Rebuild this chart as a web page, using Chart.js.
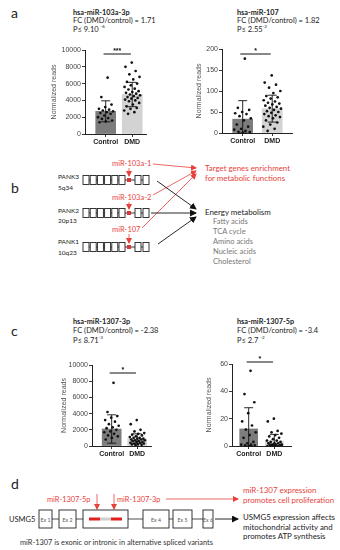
<!DOCTYPE html>
<html>
<head>
<meta charset="utf-8">
<script src="https://cdn.jsdelivr.net/npm/chart.js@4"></script>
<style>
  body { margin: 0; background: #fff; }
  #fig { position: relative; width: 340px; height: 550px; overflow: hidden; }
  #fig svg, #fig canvas { position: absolute; }
  svg text { font-family: Lato, "Open Sans", sans-serif; }
</style>
</head>
<body>
<div id="fig">
<svg width="340" height="550" style="left:0;top:0">
  <defs>
    <marker id="ar" markerWidth="6" markerHeight="6" refX="5" refY="3" orient="auto" markerUnits="userSpaceOnUse">
      <path d="M0,0 L6,3 L0,6 z" fill="#e8413c"/>
    </marker>
    <marker id="ak" markerWidth="7" markerHeight="7" refX="6" refY="3.5" orient="auto" markerUnits="userSpaceOnUse">
      <path d="M0,0 L7,3.5 L0,7 z" fill="#111"/>
    </marker>
  </defs>

  <!-- panel letters -->
  <g font-size="14" fill="#222" dominant-baseline="central">
    <text x="11" y="12">a</text>
    <text x="11" y="187">b</text>
    <text x="11" y="330">c</text>
    <text x="11" y="483">d</text>
  </g>

  <!-- chart titles -->
  <g font-size="7.5" fill="#222" dominant-baseline="central">
    <text x="73" y="12" font-size="7.3" font-weight="bold">hsa-miR-103a-3p</text>
    <text x="73" y="20.5">FC (DMD/control) = 1.71</text>
    <text x="73" y="29">P≤ 9.10 <tspan font-size="4.6" dy="-3">-6</tspan></text>
    <text x="237" y="12" font-size="7.3" font-weight="bold">hsa-miR-107</text>
    <text x="237" y="20.5">FC (DMD/control) = 1.82</text>
    <text x="237" y="29">P≤ 2.55<tspan font-size="4.6" dy="-3">-2</tspan></text>
    <text x="73" y="321" font-size="7.3" font-weight="bold">hsa-miR-1307-3p</text>
    <text x="73" y="330.5">FC (DMD/control) = -2.38</text>
    <text x="73" y="340">P≤ 8.71<tspan font-size="4.6" dy="-3">-3</tspan></text>
    <text x="237" y="321" font-size="7.3" font-weight="bold">hsa-miR-1307-5p</text>
    <text x="237" y="330.5">FC (DMD/control) = -3.4</text>
    <text x="237" y="340">P≤ 2.7 <tspan font-size="4.6" dy="-3">-2</tspan></text>
  </g>

  <!-- panel b -->
  <g id="genes" stroke="#222" stroke-width="0.9" fill="none"></g>
  <g font-size="6.5" fill="#222" dominant-baseline="central">
    <text x="58" y="176">PANK3</text><text x="58" y="187">5q34</text>
    <text x="58" y="210">PANK2</text><text x="58" y="220">20p13</text>
    <text x="58" y="241">PANK1</text><text x="58" y="252">10q23</text>
  </g>
  <g font-size="7.5" fill="#e8413c" dominant-baseline="central">
    <text x="112" y="163">miR-103a-1</text>
    <text x="112" y="197">miR-103a-2</text>
    <text x="112" y="229">miR-107</text>
  </g>
  <g font-size="7.9" fill="#e8413c" dominant-baseline="central">
    <text x="205" y="168">Target genes enrichment</text>
    <text x="205" y="178">for metabolic functions</text>
  </g>
  <g stroke="#e8413c" stroke-width="0.8" marker-end="url(#ar)">
    <line x1="129" y1="168" x2="129" y2="176"/>
    <line x1="129" y1="202" x2="129" y2="209"/>
    <line x1="129" y1="234" x2="129" y2="243"/>
    <line x1="153" y1="164" x2="196" y2="168"/>
    <line x1="153" y1="195" x2="196" y2="171"/>
    <line x1="142" y1="228" x2="196" y2="174"/>
  </g>
  <g stroke="#111" stroke-width="0.9" marker-end="url(#ak)">
    <line x1="157" y1="181" x2="196" y2="209"/>
    <line x1="151" y1="213" x2="196" y2="213"/>
    <line x1="158" y1="244" x2="196" y2="217"/>
  </g>
  <text x="205" y="212" font-size="7.9" fill="#222" dominant-baseline="central">Energy metabolism</text>
  <g font-size="7.5" fill="#777" dominant-baseline="central">
    <text x="213" y="221.5">Fatty acids</text>
    <text x="213" y="231.5">TCA cycle</text>
    <text x="213" y="241.5">Amino acids</text>
    <text x="213" y="251.5">Nucleic acids</text>
    <text x="213" y="261.5">Cholesterol</text>
  </g>

  <!-- panel d -->
  <g font-size="7.4" fill="#e8413c" dominant-baseline="central">
    <text x="47" y="499">miR-1307-5p</text>
    <text x="117" y="499">miR-1307-3p</text>
  </g>
  <g font-size="7.9" fill="#e8413c" dominant-baseline="central">
    <text x="243" y="490">miR-1307 expression</text>
    <text x="243" y="499.5">promotes cell proliferation</text>
  </g>
  <g stroke="#e8413c" stroke-width="0.8" marker-end="url(#ar)">
    <line x1="97" y1="494" x2="97" y2="509"/>
    <line x1="114" y1="494" x2="114" y2="509"/>
    <line x1="166" y1="499" x2="238" y2="499"/>
  </g>
  <line x1="52" y1="519" x2="203" y2="519" stroke="#222" stroke-width="0.8"/>
  <g stroke="#222" stroke-width="0.9" fill="#fff">
    <rect x="39" y="510" width="13" height="18"/>
    <rect x="59" y="510" width="17" height="18"/>
    <rect x="83" y="510" width="45" height="18"/>
    <rect x="143" y="510" width="26" height="18"/>
    <rect x="173" y="510" width="19" height="18"/>
    <rect x="203" y="510" width="10" height="18"/>
  </g>
  <rect x="89" y="517.5" width="11" height="3" fill="#e02020"/>
  <rect x="100" y="517.5" width="11" height="3" fill="#cfcfcf"/>
  <rect x="111" y="517.5" width="11" height="3" fill="#e02020"/>
  <g font-size="5.2" fill="#555" dominant-baseline="central" text-anchor="middle">
    <text x="45.5" y="520">Ex 1</text>
    <text x="67.5" y="520">Ex 2</text>
    <text x="156" y="520">Ex 4</text>
    <text x="182.5" y="520">Ex 5</text>
    <text x="208" y="520">Ex 6</text>
  </g>
  <line x1="215" y1="519" x2="238" y2="519" stroke="#111" stroke-width="0.9" marker-end="url(#ak)"/>
  <text x="9" y="519" font-size="7.5" fill="#222" dominant-baseline="central">USMG5</text>
  <g font-size="7.9" fill="#222" dominant-baseline="central">
    <text x="243" y="517">USMG5 expression affects</text>
    <text x="243" y="526.5">mitochondrial activity and</text>
    <text x="243" y="536">promotes ATP synthesis</text>
  </g>
  <text x="20" y="542" font-size="7.4" fill="#333" dominant-baseline="central">miR-1307 is exonic or intronic in alternative spliced variants</text>
</svg>

<canvas id="a1" width="100" height="106" style="left:50px;top:42px"></canvas>
<canvas id="a2" width="101" height="106" style="left:195px;top:41px"></canvas>
<canvas id="c1" width="95" height="103" style="left:60px;top:357px"></canvas>
<canvas id="c2" width="90" height="104" style="left:205px;top:356px"></canvas>
</div>

<script>
const groups = ["Control", "DMD"];

// hsa-miR-103a-3p
const mir103Mean = [2700, 4700];
const mir103Sd = [1250, 1450];
const mir103Control = [6700, 4400, 3500, 3200, 3000, 2900, 2800, 2700, 2600, 2500, 2400, 2200, 2000, 1900, 1800, 1600, 1500, 1400];
const mir103Dmd = [8500, 8000, 7500, 7100, 6800, 6500, 6200, 6000, 5800, 5600, 5400, 5300, 5100, 5000, 4900, 4800, 4700, 4600, 4500, 4400, 4300, 4200, 4100, 4000, 3900, 3700, 3500, 3300, 3100, 3000, 2800, 2600, 2400];

// hsa-miR-107
const mir107Mean = [33, 58];
const mir107Sd = [44, 32];
const mir107Control = [177, 60, 55, 50, 47, 45, 40, 35, 30, 20, 15, 10, 8, 5, 3, 2, 1];
const mir107Dmd = [137, 120, 115, 108, 100, 95, 88, 85, 82, 78, 75, 72, 70, 68, 65, 62, 60, 58, 55, 52, 50, 48, 45, 42, 40, 38, 35, 30, 25, 20, 15, 10, 5];

// hsa-miR-1307-3p
const mir1307_3Mean = [2100, 900];
const mir1307_3Sd = [1750, 600];
const mir1307_3Control = [7800, 4200, 3700, 3500, 3200, 3000, 2700, 2500, 2300, 2200, 2000, 1800, 1700, 1500, 1300, 1200, 1000, 800];
const mir1307_3Dmd = [3200, 2700, 2000, 1800, 1600, 1500, 1400, 1300, 1200, 1100, 1000, 1000, 900, 900, 800, 800, 700, 700, 600, 600, 500, 500, 400, 400, 300, 300, 200, 200, 150, 100];

// hsa-miR-1307-5p
const mir1307_5Mean = [12.5, 3.5];
const mir1307_5Sd = [15.5, 5];
const mir1307_5Control = [55, 38, 32, 24, 18, 15, 12, 10, 8, 6, 3, 2, 1, 1, 0.5, 0.5, 0];
const mir1307_5Dmd = [20, 18, 11, 10, 9, 8, 7, 6, 5, 4, 4, 3, 3, 2, 2, 2, 1, 1, 1, 1, 0.5, 0.5, 0, 0, 0.3, 0.8];

// gene structure rows for panel b (drawn in svg)
(function drawGenes() {
  const g = document.getElementById("genes");
  const ns = "http://www.w3.org/2000/svg";
  [180, 213, 247].forEach(y => {
    const ln = document.createElementNS(ns, "line");
    ln.setAttribute("x1", 83); ln.setAttribute("x2", 149);
    ln.setAttribute("y1", y); ln.setAttribute("y2", y);
    g.appendChild(ln);
    const xs = [83, 90.2, 97.4, 104.6, 111.8, 119, 135, 143];
    xs.forEach(x => {
      const r = document.createElementNS(ns, "rect");
      r.setAttribute("x", x); r.setAttribute("y", y - 4.5);
      r.setAttribute("width", 6); r.setAttribute("height", 9);
      r.setAttribute("fill", "#fff");
      g.appendChild(r);
    });
    const sq = document.createElementNS(ns, "rect");
    sq.setAttribute("x", 127); sq.setAttribute("y", y - 2);
    sq.setAttribute("width", 4); sq.setAttribute("height", 4);
    sq.setAttribute("fill", "#d9383a"); sq.setAttribute("stroke", "none");
    g.appendChild(sq);
  });
})();

// spread dots across the bar (deterministic)
const spread = i => ((((i + 1) * 0.6180339) % 1) - 0.5) * 0.62;

const errorBars = {
  id: "errorBars",
  afterDatasetsDraw(chart, args, opts) {
    const { ctx, scales: { x, y } } = chart;
    ctx.save();
    ctx.strokeStyle = "#111";
    ctx.lineWidth = 0.9;
    opts.mean.forEach((m, i) => {
      const cx = x.getPixelForValue(i);
      const top = y.getPixelForValue(m + opts.sd[i]);
      const bot = y.getPixelForValue(Math.max(0, m - opts.sd[i]));
      ctx.beginPath();
      ctx.moveTo(cx, top); ctx.lineTo(cx, bot);
      ctx.moveTo(cx - 4.5, top); ctx.lineTo(cx + 4.5, top);
      ctx.moveTo(cx - 4.5, bot); ctx.lineTo(cx + 4.5, bot);
      ctx.stroke();
    });
    // significance bar
    const sy = chart.chartArea.top + opts.sigY;
    const x1 = x.getPixelForValue(-0.08), x2 = x.getPixelForValue(0.95);
    ctx.beginPath();
    ctx.moveTo(x1, sy); ctx.lineTo(x2, sy);
    ctx.lineWidth = 1;
    ctx.stroke();
    ctx.fillStyle = "#111";
    ctx.font = "bold 7px 'Liberation Sans'";
    ctx.textAlign = "center";
    ctx.textBaseline = "bottom";
    ctx.fillText(opts.sigText, (x1 + x2) / 2, sy + 0.5);
    ctx.restore();
  },
};

function makeChart(id, cfg) {
  const dots = [];
  cfg.control.forEach((v, i) => dots.push({ x: spread(i), y: v }));
  cfg.dmd.forEach((v, i) => dots.push({ x: 1 + spread(i + 3), y: v }));
  new Chart(document.getElementById(id), {
    type: "bar",
    data: {
      datasets: [
        {
          type: "bar",
          data: cfg.mean.map((m, i) => ({ x: i, y: m })),
          backgroundColor: ["#7c7c7c", "#d3d3d3"],
          barThickness: cfg.barW,
          borderWidth: 0,
          order: 2,
        },
        {
          type: "scatter",
          data: dots,
          pointRadius: 1.35,
          pointBackgroundColor: "#111",
          pointBorderWidth: 0,
          order: 1,
        },
      ],
    },
    options: {
      responsive: false,
      animation: false,
      devicePixelRatio: 1,
      layout: { padding: { top: cfg.padTop, right: 3, left: 0, bottom: 0 } },
      plugins: {
        legend: { display: false },
        tooltip: { enabled: false },
        errorBars: { mean: cfg.mean, sd: cfg.sd, sigY: cfg.sigY, sigText: cfg.sigText },
      },
      scales: {
        x: {
          type: "linear",
          offset: false,
          min: cfg.xMin,
          max: cfg.xMax,
          afterBuildTicks: s => { s.ticks = [{ value: 0 }, { value: 1 }]; },
          afterFit: s => { s.height = 14; },
          ticks: {
            callback: v => groups[v],
            font: { size: 7, weight: "bold", family: "'Liberation Sans'" },
            color: "#222",
            padding: 1,
            maxRotation: 0,
          },
          grid: { offset: false, drawOnChartArea: false, tickLength: 3, color: "#222", lineWidth: 0.9 },
          border: { color: "#222", width: 1 },
        },
        y: {
          min: 0,
          max: cfg.yMax,
          afterFit: s => { s.width = cfg.yW; },
          ticks: {
            stepSize: cfg.step,
            callback: v => String(v),
            font: { size: 7, family: "'Liberation Sans'" },
            color: "#444",
            padding: 1,
          },
          grid: { drawOnChartArea: false, tickLength: 3, color: "#222", lineWidth: 0.9 },
          border: { color: "#222", width: 1 },
          title: {
            display: true,
            text: "Normalized reads",
            font: { size: 7, family: "'Liberation Sans'" },
            color: "#555",
            padding: { top: 0, bottom: 0 },
          },
        },
      },
    },
    plugins: [errorBars],
  });
}

makeChart("a1", {
  control: mir103Control, dmd: mir103Dmd, mean: mir103Mean, sd: mir103Sd,
  yMax: 10000, step: 2000, yW: 35, padTop: 8, xMin: -0.78, xMax: 1.52, barW: 20,
  sigY: 4, sigText: "***",
});
makeChart("a2", {
  control: mir107Control, dmd: mir107Dmd, mean: mir107Mean, sd: mir107Sd,
  yMax: 200, step: 50, yW: 27, padTop: 8, xMin: -0.7, xMax: 1.67, barW: 20,
  sigY: 5, sigText: "*",
});
makeChart("c1", {
  control: mir1307_3Control, dmd: mir1307_3Dmd, mean: mir1307_3Mean, sd: mir1307_3Sd,
  yMax: 10000, step: 2000, yW: 32, padTop: 8, xMin: -0.77, xMax: 1.54, barW: 19,
  sigY: 8, sigText: "*",
});
makeChart("c2", {
  control: mir1307_5Control, dmd: mir1307_5Dmd, mean: mir1307_5Mean, sd: mir1307_5Sd,
  yMax: 60, step: 20, yW: 27, padTop: 8, xMin: -0.65, xMax: 1.65, barW: 18,
  sigY: -2, sigText: "*",
});
</script>
</body>
</html>
